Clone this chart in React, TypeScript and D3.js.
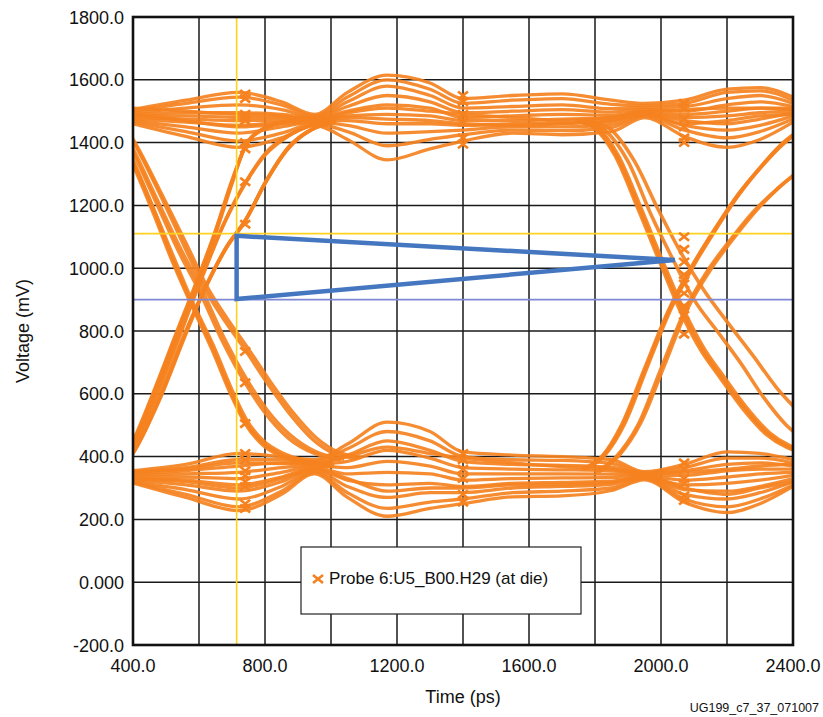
import React from "react";
import * as d3 from "d3";

// ---------- data ----------
const xGridTicks = [400, 600, 800, 1000, 1200, 1400, 1600, 1800, 2000, 2200, 2400];
const xLabelTicks = [400, 800, 1200, 1600, 2000, 2400];
const xLabels = ["400.0", "800.0", "1200.0", "1600.0", "2000.0", "2400.0"];
const yTicks = [-200, 0, 200, 400, 600, 800, 1000, 1200, 1400, 1600, 1800];
const yLabels = ["-200.0", "0.000", "200.0", "400.0", "600.0", "800.0", "1000.0", "1200.0", "1400.0", "1600.0", "1800.0"];

// sample times for the high / low level traces (ps)
const levelTimes = [400, 560, 720, 850, 950, 1050, 1170, 1300, 1400, 1550, 1700, 1850, 1950, 2070, 2200, 2300, 2400];

// high-level traces (mV at levelTimes)
const highTraces = [
  [1505, 1535, 1560, 1530, 1490, 1560, 1615, 1590, 1540, 1550, 1555, 1535, 1525, 1535, 1570, 1575, 1545],
  [1500, 1525, 1545, 1520, 1485, 1545, 1600, 1570, 1525, 1535, 1540, 1522, 1518, 1525, 1560, 1565, 1535],
  [1495, 1510, 1520, 1505, 1480, 1530, 1580, 1550, 1510, 1515, 1520, 1508, 1512, 1515, 1540, 1550, 1525],
  [1490, 1495, 1495, 1490, 1478, 1515, 1550, 1530, 1495, 1500, 1505, 1497, 1506, 1500, 1520, 1530, 1515],
  [1485, 1485, 1480, 1480, 1475, 1500, 1520, 1510, 1480, 1485, 1490, 1487, 1500, 1490, 1500, 1510, 1505],
  [1480, 1475, 1470, 1472, 1472, 1485, 1490, 1485, 1470, 1470, 1475, 1478, 1496, 1480, 1485, 1495, 1500],
  [1475, 1465, 1455, 1465, 1470, 1470, 1460, 1460, 1455, 1460, 1462, 1468, 1492, 1470, 1460, 1475, 1495],
  [1470, 1450, 1430, 1450, 1465, 1455, 1430, 1435, 1440, 1450, 1450, 1458, 1488, 1455, 1440, 1455, 1485],
  [1465, 1435, 1405, 1430, 1460, 1435, 1390, 1410, 1425, 1440, 1438, 1448, 1485, 1440, 1415, 1435, 1475],
  [1460, 1420, 1385, 1415, 1455, 1410, 1345, 1380, 1405, 1430, 1425, 1435, 1480, 1420, 1385, 1410, 1465],
  [1510, 1500, 1490, 1485, 1470, 1495, 1510, 1500, 1490, 1480, 1470, 1480, 1500, 1505, 1510, 1510, 1510],
  [1490, 1470, 1450, 1460, 1468, 1480, 1475, 1470, 1460, 1455, 1460, 1470, 1494, 1460, 1470, 1485, 1490],
];

// low-level traces (mV at levelTimes)
const lowTraces = [
  [355, 375, 410, 400, 390, 440, 510, 480, 415, 405, 400, 390, 352, 375, 415, 410, 390],
  [350, 365, 390, 390, 385, 425, 480, 450, 400, 390, 388, 378, 348, 365, 395, 395, 380],
  [345, 355, 370, 380, 380, 405, 450, 420, 385, 375, 372, 366, 345, 355, 375, 380, 370],
  [340, 345, 350, 365, 375, 385, 420, 395, 365, 360, 358, 355, 342, 340, 355, 360, 360],
  [335, 335, 330, 350, 370, 365, 385, 370, 345, 345, 345, 344, 340, 325, 335, 345, 350],
  [330, 325, 310, 335, 365, 345, 350, 345, 325, 330, 332, 334, 338, 310, 315, 325, 340],
  [325, 310, 290, 320, 360, 325, 310, 315, 305, 315, 318, 322, 335, 295, 290, 305, 330],
  [320, 295, 265, 305, 355, 305, 270, 285, 285, 300, 305, 312, 333, 280, 265, 285, 320],
  [318, 280, 240, 290, 350, 285, 235, 255, 265, 285, 290, 300, 330, 265, 240, 265, 310],
  [316, 270, 228, 280, 345, 270, 210, 235, 250, 272, 275, 292, 326, 255, 222, 250, 305],
  [352, 360, 380, 378, 378, 400, 430, 410, 395, 380, 368, 360, 346, 350, 360, 370, 375],
  [330, 320, 300, 330, 360, 330, 290, 300, 300, 310, 312, 318, 336, 300, 280, 300, 320],
];

// transitions: [time ps, mV]
const leftFalling = [
  [[340, 1470], [400, 1330], [460, 1180], [520, 1020], [570, 900], [640, 740], [700, 590], [740, 505], [790, 440], [850, 400], [920, 380], [1000, 370]],
  [[340, 1475], [400, 1338], [462, 1188], [522, 1025], [572, 903], [642, 745], [702, 595], [742, 510], [792, 445], [852, 405], [925, 382], [1005, 371]],
  [[340, 1480], [400, 1345], [460, 1195], [525, 1030], [575, 905], [645, 750], [705, 600], [745, 515], [795, 450], [855, 410], [930, 385], [1010, 372]],
  [[340, 1490], [400, 1370], [470, 1210], [540, 1050], [600, 930], [670, 770], [740, 635], [800, 540], [870, 460], [950, 410], [1030, 390]],
  [[340, 1490], [400, 1380], [470, 1225], [545, 1060], [605, 940], [675, 780], [745, 645], [805, 550], [875, 470], [955, 415], [1040, 392]],
  [[340, 1500], [400, 1405], [480, 1240], [560, 1060], [620, 930], [680, 830], [740, 740], [810, 630], [880, 530], [950, 450], [1010, 410], [1080, 395]],
  [[340, 1500], [400, 1410], [480, 1250], [565, 1070], [625, 940], [685, 840], [745, 750], [815, 640], [885, 540], [955, 460], [1020, 415], [1090, 398]],
];
const leftRising = [
  [[330, 330], [400, 440], [460, 590], [530, 780], [590, 940], [650, 1110], [700, 1270], [740, 1390], [790, 1440], [860, 1465], [930, 1475]],
  [[330, 332], [400, 445], [460, 595], [530, 785], [590, 945], [650, 1115], [700, 1275], [742, 1392], [792, 1442], [862, 1466], [932, 1475]],
  [[330, 335], [400, 450], [460, 600], [530, 790], [590, 950], [650, 1120], [700, 1280], [745, 1395], [795, 1445], [865, 1468], [935, 1476]],
  [[330, 330], [400, 425], [470, 590], [540, 780], [600, 950], [670, 1130], [740, 1270], [800, 1360], [870, 1420], [940, 1455], [1000, 1470]],
  [[330, 335], [400, 430], [470, 600], [540, 790], [605, 960], [675, 1140], [745, 1280], [805, 1370], [875, 1425], [945, 1458], [1005, 1472]],
  [[330, 325], [400, 410], [480, 580], [560, 790], [620, 940], [680, 1060], [740, 1150], [800, 1270], [870, 1380], [940, 1440], [1010, 1465]],
  [[330, 327], [400, 412], [480, 585], [560, 795], [622, 945], [682, 1065], [742, 1155], [802, 1275], [872, 1385], [942, 1442], [1012, 1466]],
  [[330, 330], [400, 415], [480, 590], [560, 800], [625, 950], [685, 1070], [745, 1160], [805, 1280], [875, 1390], [945, 1445], [1015, 1468]],
];
const rightRising = [
  [[1760, 360], [1820, 400], [1880, 500], [1950, 680], [2020, 860], [2090, 1000], [2160, 1120], [2230, 1230], [2300, 1320], [2360, 1390], [2420, 1440]],
  [[1765, 360], [1825, 402], [1885, 502], [1955, 685], [2025, 865], [2095, 1005], [2165, 1125], [2235, 1235], [2305, 1325], [2365, 1392], [2425, 1442]],
  [[1770, 360], [1830, 405], [1890, 505], [1960, 690], [2030, 870], [2100, 1010], [2170, 1130], [2240, 1240], [2310, 1330], [2370, 1395], [2430, 1445]],
  [[1800, 350], [1860, 395], [1930, 500], [2000, 680], [2070, 860], [2140, 990], [2210, 1090], [2280, 1180], [2350, 1250], [2420, 1310]],
  [[1810, 350], [1870, 400], [1940, 510], [2010, 690], [2080, 870], [2150, 995], [2220, 1095], [2290, 1185], [2360, 1260], [2430, 1320]],
];
const rightFalling = [
  [[1740, 1470], [1800, 1445], [1860, 1360], [1930, 1190], [2000, 1010], [2060, 860], [2120, 740], [2180, 650], [2250, 550], [2320, 470], [2380, 430], [2440, 410]],
  [[1745, 1470], [1805, 1445], [1865, 1360], [1935, 1190], [2005, 1010], [2065, 862], [2125, 742], [2185, 652], [2255, 552], [2325, 472], [2385, 432], [2445, 412]],
  [[1750, 1470], [1810, 1445], [1870, 1360], [1940, 1190], [2010, 1010], [2070, 865], [2130, 745], [2190, 655], [2260, 555], [2330, 475], [2390, 435], [2450, 415]],
  [[1770, 1470], [1830, 1440], [1900, 1340], [1970, 1170], [2040, 1020], [2100, 900], [2170, 800], [2240, 700], [2310, 590], [2380, 500], [2440, 450]],
  [[1790, 1470], [1850, 1440], [1920, 1340], [1990, 1190], [2060, 1050], [2130, 930], [2200, 830], [2280, 720], [2350, 620], [2420, 540]],
];

// probe markers: time and voltages
const markerLeftTime = 740;
const markerLeftValues = [1555, 1540, 1490, 1480, 1470, 1400, 1380, 1275, 1140, 735, 635, 505, 410, 390, 355, 340, 320, 305, 250, 235];
const markerMidTime = 1400;
const markerMidValues = [1550, 1530, 1490, 1465, 1415, 1395, 410, 390, 360, 330, 280, 255];
const markerRightTime = 2070;
const markerRightValues = [1525, 1510, 1475, 1450, 1415, 1400, 1100, 1060, 1020, 980, 950, 920, 880, 850, 790, 380, 360, 330, 315, 275, 260];

// cursors and eye-mask triangle
const cursorTime = 714;
const cursorHigh = 1110;
const cursorLow = 900;
const maskTriangle = [[714, 1103], [2042, 1026], [714, 902]];

const legendLabel = "Probe 6:U5_B00.H29 (at die)";
const xTitle = "Time (ps)";
const yTitle = "Voltage (mV)";
const figureId = "UG199_c7_37_071007";

// ---------- drawing ----------
const W = 823;
const H = 717;
const FONT = "'Liberation Sans', Arial, Helvetica, sans-serif";
const ORANGE = "#F5821F";

export default function App() {
  const x = d3.scaleLinear().domain([400, 2400]).range([133, 793]);
  const y = d3.scaleLinear().domain([-200, 1800]).range([645, 17]);

  const line = d3
    .line<number[]>()
    .x((d) => x(d[0]))
    .y((d) => y(d[1]))
    .curve(d3.curveMonotoneX);

  const levelPath = (vals: number[]) => line(vals.map((v, i) => [levelTimes[i], v])) || "";

  const allEdges = [...leftFalling, ...leftRising, ...rightRising, ...rightFalling];

  const markers: [number, number][] = [
    ...markerLeftValues.map((v) => [markerLeftTime, v] as [number, number]),
    ...markerMidValues.map((v) => [markerMidTime, v] as [number, number]),
    ...markerRightValues.map((v) => [markerRightTime, v] as [number, number]),
  ];

  const cross = (cx: number, cy: number, key: string | number) => (
    <path
      key={key}
      d={`M${cx - 5},${cy - 4}L${cx + 5},${cy + 4}M${cx - 5},${cy + 4}L${cx + 5},${cy - 4}`}
      stroke={ORANGE}
      strokeWidth={2.6}
      fill="none"
    />
  );

  const [x0, x1] = x.range();
  const [yb, yt] = y.range();

  const triPath = d3.line<number[]>().x((d) => x(d[0])).y((d) => y(d[1]))(maskTriangle) + "Z";

  return (
    <svg
      width={W}
      height={H}
      style={{ position: "absolute", left: 0, top: 0, background: "#fff" }}
      fontFamily={FONT}
    >
      <defs>
        <clipPath id="plotClip">
          <rect x={x0} y={yt} width={x1 - x0} height={yb - yt} />
        </clipPath>
      </defs>
      <rect x={0} y={0} width={W} height={H} fill="#fff" />

      {/* grid */}
      {xGridTicks.map((t) => (
        <line key={"gx" + t} x1={x(t)} x2={x(t)} y1={yt} y2={yb} stroke="#1a1a1a" strokeWidth={1.5} />
      ))}
      {yTicks.map((t) => (
        <line key={"gy" + t} x1={x0} x2={x1} y1={y(t)} y2={y(t)} stroke="#1a1a1a" strokeWidth={1.5} />
      ))}

      {/* traces */}
      <g clipPath="url(#plotClip)" fill="none" stroke={ORANGE} strokeOpacity={0.92}>
        {highTraces.map((tr, i) => (
          <path key={"h" + i} d={levelPath(tr)} strokeWidth={3.3} />
        ))}
        {lowTraces.map((tr, i) => (
          <path key={"l" + i} d={levelPath(tr)} strokeWidth={3.3} />
        ))}
        {allEdges.map((tr, i) => (
          <path key={"e" + i} d={line(tr) || ""} strokeWidth={3.6} />
        ))}
      </g>

      {/* cursors */}
      <line x1={x(cursorTime)} x2={x(cursorTime)} y1={yt} y2={yb} stroke="#FFD21F" strokeWidth={1.6} />
      <line x1={x0} x2={x1} y1={y(cursorHigh)} y2={y(cursorHigh)} stroke="#FFD21F" strokeWidth={1.6} />
      <line x1={x0} x2={x1} y1={y(cursorLow)} y2={y(cursorLow)} stroke="#8088D4" strokeWidth={1.6} />

      {/* markers */}
      <g>{markers.map((m, i) => cross(x(m[0]), y(m[1]), "m" + i))}</g>

      {/* mask triangle */}
      <path d={triPath} fill="none" stroke="#4577C0" strokeWidth={4.5} strokeLinejoin="miter" />

      {/* frame */}
      <rect x={x0} y={yt} width={x1 - x0} height={yb - yt} fill="none" stroke="#111" strokeWidth={2.6} />

      {/* legend */}
      <rect x={301} y={547} width={280} height={67} fill="#fff" stroke="#222" strokeWidth={1.2} />
      {cross(318, 579, "legend")}
      <text x={329} y={584} fontSize={17} fill="#111">
        {legendLabel}
      </text>

      {/* tick labels */}
      {yTicks.map((t, i) => (
        <text key={"yl" + t} x={124} y={y(t) + 6.5} fontSize={18} textAnchor="end" fill="#111">
          {yLabels[i]}
        </text>
      ))}
      {xLabelTicks.map((t, i) => (
        <text key={"xl" + t} x={x(t)} y={672} fontSize={18} textAnchor="middle" fill="#111">
          {xLabels[i]}
        </text>
      ))}

      {/* titles */}
      <text x={463} y={703} fontSize={18} textAnchor="middle" fill="#111">
        {xTitle}
      </text>
      <text transform="translate(29,331) rotate(-90)" fontSize={18} textAnchor="middle" fill="#111">
        {yTitle}
      </text>
      <text x={819} y={712} fontSize={12.5} textAnchor="end" fill="#111">
        {figureId}
      </text>
    </svg>
  );
}
